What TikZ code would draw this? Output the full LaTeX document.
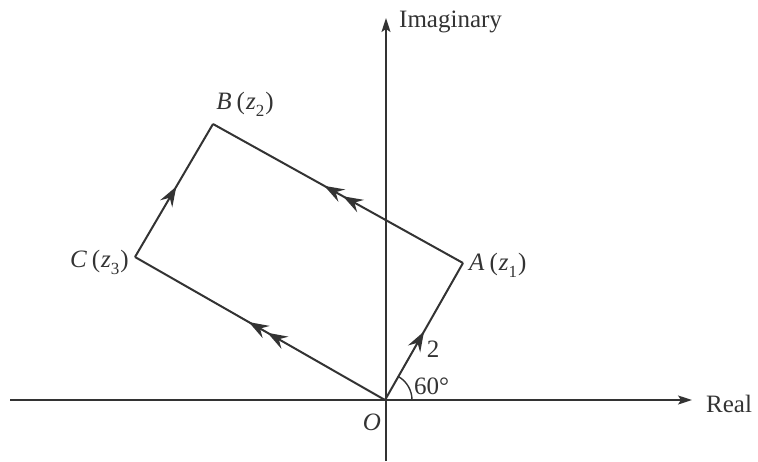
\documentclass[tikz,border=0pt]{standalone}
\usepackage{fontspec}
\setmainfont{Liberation Serif}
\usetikzlibrary{arrows.meta,decorations.markings}
\definecolor{ink}{HTML}{333333}
\newcommand{\sbs}[1]{\raisebox{-0.28em}{\fontsize{17}{19}\selectfont #1}}
\newcommand{\ptlab}[2]{\textit{#1}\hspace{5pt}(\hspace{1pt}\textit{z}\sbs{#2}\hspace{1pt})}
\tikzset{
  axis/.style={draw=ink, line width=1.7pt, -{Stealth[length=14pt,width=9pt,inset=3pt]}},
  side/.style={draw=ink, line width=2pt},
  lab/.style={text=ink, font=\fontsize{25}{30}\selectfont, inner sep=0pt},
  arr/.tip={Stealth[length=20pt,width=14pt,inset=7pt]},
  onemark/.style={postaction={decorate}, decoration={markings, mark=at position #1 with {\arrow[ink]{arr}}}},
  twomark/.style n args={2}{postaction={decorate}, decoration={markings,
     mark=at position #1 with {\arrow[ink]{arr}},
     mark=at position #2 with {\arrow[ink]{arr}}}}
}
\begin{document}
\begin{tikzpicture}[x=1pt,y=-1pt]
\useasboundingbox (0,0) rectangle (758,461);
\coordinate (O) at (385,400);
\coordinate (A) at (463,263);
\coordinate (B) at (213,124);
\coordinate (C) at (135,257);
\coordinate (xs) at (10,400);
\coordinate (xe) at (692,400);
\coordinate (ys) at (386,461);
\coordinate (ye) at (386,18);
\draw[axis] (xs) -- (xe);
\draw[axis] (ys) -- (ye);
\draw[side, onemark=0.5] (O) -- (A);
\draw[side, twomark={0.48}{0.555}] (A) -- (B);
\draw[side, onemark=0.53] (C) -- (B);
\draw[side, twomark={0.47}{0.545}] (O) -- (C);
\draw[draw=ink, line width=1.4pt] ([xshift=27pt]O) arc[start angle=0, end angle=60, radius=27pt];
\node[lab, anchor=west] (im) at (399,22) {Imaginary};
\node[lab, anchor=west] (re) at (706,404) {Real};
\node[lab] (Bl) at (245,104) {\ptlab{B}{2}};
\node[lab, anchor=east] (Cl) at (129,262) {\ptlab{C}{3}};
\node[lab, anchor=west] (Al) at (469,265) {\ptlab{A}{1}};
\node[lab] (Ol) at (372,422) {\textit{O}};
\node[lab, anchor=west] (ang) at (414,386) {60°};
\node[lab] (two) at (433,349) {2};
\end{tikzpicture}
\end{document}
